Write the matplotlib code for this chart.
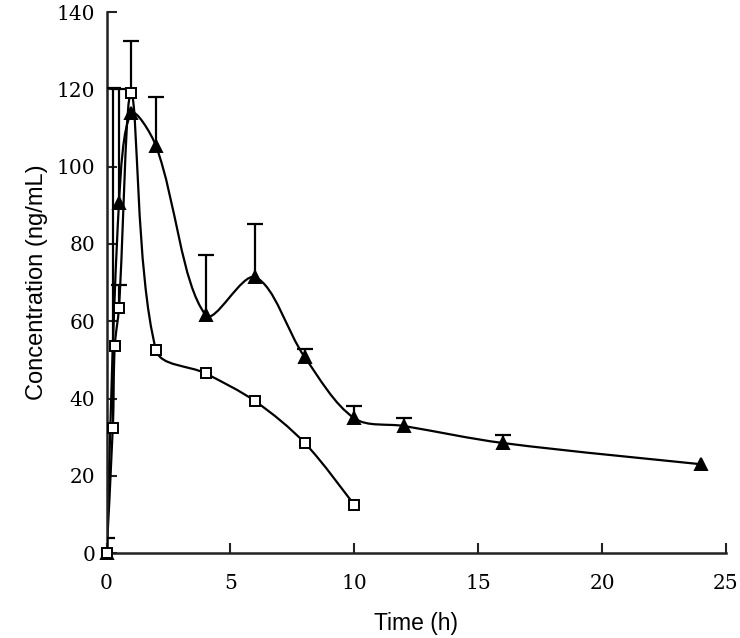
import numpy as np
import matplotlib
matplotlib.use("Agg")
import matplotlib.pyplot as plt
from matplotlib.path import Path
from matplotlib.patches import PathPatch

# open squares
sq_t = [0, 0.25, 0.33, 0.5, 1, 2, 4, 6, 8, 10]
sq_c = [0, 32.3, 53.5, 63.5, 119, 52.5, 46.5, 39.3, 28.5, 12.5]
sq_err = [4, 88, 0, 6, 13.5, 0, 0, 0, 0, 0]

# filled triangles
tr_t = [0, 0.5, 1, 2, 4, 6, 8, 10, 12, 16, 24]
tr_c = [0, 90.5, 113.8, 105.3, 61.6, 71.4, 50.7, 34.9, 32.9, 28.5, 23]
tr_err = [0, 29.5, 0, 12.7, 15.5, 13.7, 2, 3.3, 2, 2.2, 0]


def smooth_path(ax, x, y):
    # bezier through the points, handles scaled by segment length (screen space)
    p = ax.transData.transform(np.column_stack([x, y]).astype(float))
    n = len(p)
    seg = np.hypot(*np.diff(p, axis=0).T)
    tang = []
    for i in range(n):
        a = p[i - 1] if i > 0 else p[i]
        b = p[i + 1] if i + 1 < n else p[i]
        tang.append(b - a)
    verts = [p[0]]
    codes = [Path.MOVETO]
    for i in range(n - 1):
        lprev = seg[i - 1] if i > 0 else seg[i]
        lnext = seg[i + 1] if i + 1 < n - 1 else seg[i]
        c1 = p[i] + tang[i] * seg[i] / (lprev + seg[i]) / 3
        c2 = p[i + 1] - tang[i + 1] * seg[i] / (seg[i] + lnext) / 3
        verts += [c1, c2, p[i + 1]]
        codes += [Path.CURVE4] * 3
    verts = ax.transData.inverted().transform(np.array(verts))
    return Path(verts, codes)


def draw(ax, t, c, err, marker, face, ms):
    ax.add_patch(PathPatch(smooth_path(ax, t, c), fc="none", ec="black", lw=1.6, zorder=2))
    t = np.array(t)
    c = np.array(c)
    err = np.array(err)
    keep = err > 0
    # only the upper half of each error bar, with a cap on top
    ax.vlines(t[keep], c[keep], c[keep] + err[keep], color="black", lw=1.6, zorder=3)
    ax.plot(t[keep], c[keep] + err[keep], ls="none", marker="_", ms=12, mew=1.6,
            color="black", zorder=3)
    ax.plot(t, c, ls="none", marker=marker, ms=ms, mfc=face, mec="black", mew=1.4,
            zorder=4, clip_on=False)


fig = plt.figure(figsize=(7.4, 6.38), dpi=100)
ax = fig.add_axes([0.144, 0.133, 0.837, 0.848])
ax.set_xlim(0, 25)
ax.set_ylim(0, 140)

draw(ax, tr_t, tr_c, tr_err, "^", "black", 9)
draw(ax, sq_t, sq_c, sq_err, "s", "white", 7.5)

ax.set_xticks(range(0, 26, 5))
ax.set_yticks(range(0, 141, 20))
for s in ["top", "right"]:
    ax.spines[s].set_visible(False)
for s in ["left", "bottom"]:
    ax.spines[s].set_linewidth(1.8)
    ax.spines[s].set_color("#222222")
ax.tick_params(direction="in", length=7, width=1.5, labelsize=14.5, color="#222222")
ax.tick_params(axis="y", pad=8)
ax.tick_params(axis="x", pad=15)
for lab in ax.get_xticklabels() + ax.get_yticklabels():
    lab.set_family(["DejaVu Serif"])
ax.set_xlabel("Time (h)", fontsize=16.5, family=["Liberation Sans", "DejaVu Sans"], labelpad=14)
ax.set_ylabel("Concentration (ng/mL)", fontsize=17, family=["Liberation Sans", "DejaVu Sans"], labelpad=6)

fig.savefig("out.png", dpi=100)
